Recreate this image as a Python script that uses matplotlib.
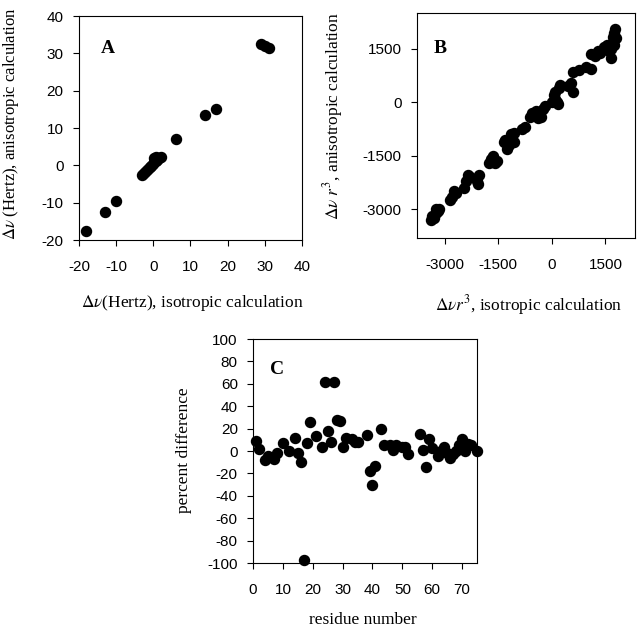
import matplotlib
matplotlib.use('Agg')
import matplotlib.pyplot as plt
import numpy as np

plt.rcParams['font.family'] = 'Liberation Sans'
plt.rcParams['mathtext.fontset'] = 'stix'
plt.rcParams['axes.unicode_minus'] = False

# panel A: dipolar couplings (Hz)
a_iso = [-18, -13, -10, -3, -2.5, -2, -1.5, -1, -0.5, 0, 0.3, 0.7, 1, 0.3, 0.8,
         1.5, 2, 6, 14, 17, 29, 30, 31]
a_aniso = [-17.5, -12.5, -9.5, -2.5, -2, -1.5, -1, -0.5, -0.2, 0.3, 0.8, 1.2, 1.5,
           2, 2.3, 2, 2.2, 7, 13.5, 15, 32.5, 32, 31.5]

# panel B: coupling * r^3
b_iso = [-3400, -3350, -3300, -3250, -3200, -3150, -3250,
         -2850, -2800, -2750, -2700,
         -2450, -2400, -2350, -2300,
         -2100, -2050, -2080,
         -1750, -1700, -1650, -1600, -1550,
         -1350, -1300, -1250, -1200, -1150, -1050, -1050,
         -850, -750,
         -600, -550, -500, -450, -400, -300,
         -250, -200,
         0, 50, 80, 100, 150, 200, 220, 180,
         450, 550, 580, 600, 750, 950, 1100,
         1100, 1200, 1300, 1350, 1450, 1500, 1550,
         1600, 1650, 1650, 1700, 1700, 1750, 1780, 1800, 1750]
b_aniso = [-3300, -3200, -3250, -3100, -3050, -3000, -3000,
           -2750, -2650, -2500, -2550,
           -2400, -2200, -2050, -2100,
           -2200, -2050, -2300,
           -1700, -1600, -1500, -1700, -1650,
           -1100, -1050, -1300, -1200, -900, -850, -1100,
           -750, -700,
           -400, -300, -350, -250, -450, -400,
           -200, -100,
           0, 200, 300, 100, 0, 400, 500, -50,
           450, 550, 300, 850, 900, 1000, 950,
           1350, 1300, 1450, 1400, 1550, 1500, 1600,
           1450, 1500, 1250, 1700, 1850, 1950, 2050, 1800, 1600]

# panel C: percent difference per residue
residue = [1, 2, 4, 5, 7, 8, 10, 12, 14, 15, 16, 17, 18, 19, 21, 23, 24, 25, 26,
           27, 28, 29, 30, 31, 33, 34, 35, 38, 39, 40, 41, 43, 44, 46, 47, 48,
           50, 51, 52, 56, 57, 58, 59, 60, 62, 63, 64, 65, 66, 67, 68, 69, 70,
           71, 72, 73, 75]
pct_diff = [9, 2, -8, -4, -7, -2, 7, 0, 12, -2, -10, -97, 7, 26, 13, 4, 62, 18, 8,
            62, 28, 27, 4, 12, 11, 8, 8, 14, -18, -30, -13, 20, 5, 5, 1, 5,
            4, 4, -3, 15, 1, -14, 11, 3, -4, 0, 4, -2, -6, -3, 0, 5, 11,
            0, 6, 5, 0]

fig = plt.figure(figsize=(6.38, 6.29), dpi=100)
axA = fig.add_axes([0.1238, 0.6184, 0.3495, 0.3561])
axB = fig.add_axes([0.6536, 0.6216, 0.3417, 0.3577])
axC = fig.add_axes([0.3966, 0.1049, 0.3511, 0.3561])

serif = 'Liberation Serif'
lab_fs = 12.5

for ax in (axA, axB, axC):
    ax.tick_params(direction='out', width=0.8, labelsize=11,
                   top=False, right=False)
    ax.tick_params(axis='x', length=4, pad=10.5)
    ax.tick_params(axis='y', length=4.5, pad=6.5)
    for sp in ax.spines.values():
        sp.set_linewidth(0.8)

axA.scatter(a_iso, a_aniso, s=52, color='black', zorder=3, clip_on=False)
axA.set_xlim(-20, 40)
axA.set_ylim(-20, 40)
axA.set_xticks(np.arange(-20, 41, 10))
axA.set_yticks(np.arange(-20, 41, 10))
axA.set_xlabel(r'$\mathit{\Delta\nu}$(Hertz), isotropic calculation',
               family=serif, fontsize=lab_fs)
axA.set_ylabel(r'$\mathit{\Delta\nu}$ (Hertz), anisotropic calculation',
               family=serif, fontsize=12)
axA.xaxis.set_label_coords(0.507, -0.237)
axA.yaxis.set_label_coords(-0.262, 0.522)
axA.text(0.13, 0.855, 'A', transform=axA.transAxes, family=serif,
         fontweight='bold', fontsize=14, ha='center', va='center')

axB.scatter(b_iso, b_aniso, s=52, color='black', zorder=3, clip_on=False)
axB.set_xlim(-3780, 2330)
axB.set_ylim(-3810, 2510)
axB.set_xticks([-3000, -1500, 0, 1500])
axB.set_yticks([-3000, -1500, 0, 1500])
axB.set_xlabel(r'$\mathit{\Delta\nu r}^3$, isotropic calculation',
               family=serif, fontsize=lab_fs)
axB.set_ylabel(r'$\mathit{\Delta\nu\ r}^3$, anisotropic calculation',
               family=serif, fontsize=lab_fs)
axB.xaxis.set_label_coords(0.514, -0.244)
axB.yaxis.set_label_coords(-0.33, 0.542)
axB.text(0.105, 0.844, 'B', transform=axB.transAxes, family=serif,
         fontweight='bold', fontsize=14, ha='center', va='center')

axC.scatter(residue, pct_diff, s=52, color='black', zorder=3, clip_on=False)
axC.set_xlim(0, 75)
axC.set_ylim(-100, 100)
axC.set_xticks(np.arange(0, 71, 10))
axC.set_yticks(np.arange(-100, 101, 20))
axC.set_xlabel('residue number', family=serif, fontsize=lab_fs)
axC.set_ylabel('percent difference', family=serif, fontsize=lab_fs)
axC.xaxis.set_label_coords(0.49, -0.22)
axC.yaxis.set_label_coords(-0.272, 0.504)
axC.text(0.107, 0.862, 'C', transform=axC.transAxes, family=serif,
         fontweight='bold', fontsize=14, ha='center', va='center')

fig.savefig('out.png', dpi=100)
